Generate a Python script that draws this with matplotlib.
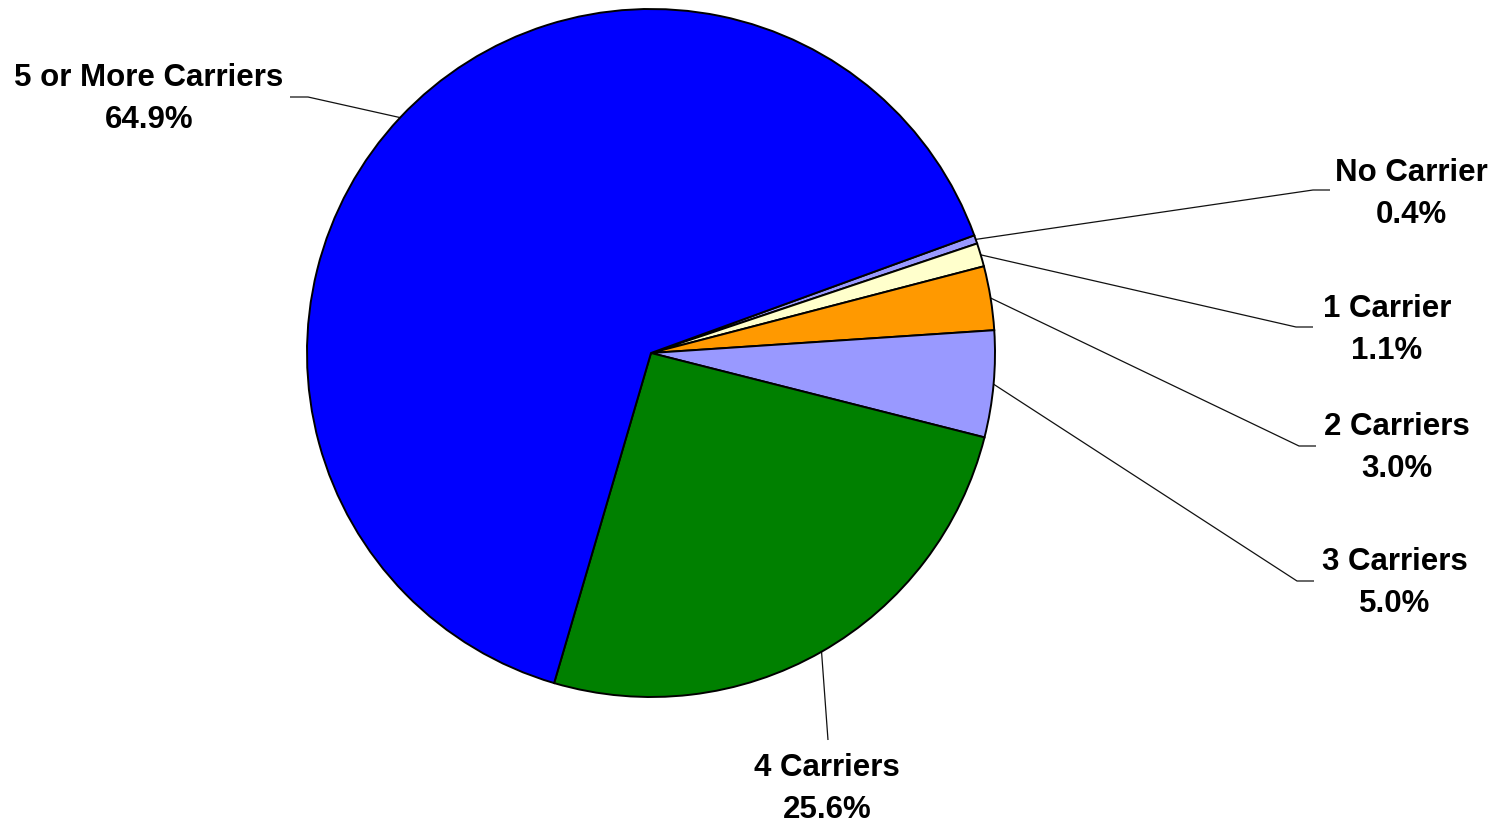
import numpy as np
import matplotlib
matplotlib.use("Agg")
import matplotlib.pyplot as plt

categories = ["No Carrier", "1 Carrier", "2 Carriers", "3 Carriers", "4 Carriers", "5 or More Carriers"]
values = [0.4, 1.1, 3.0, 5.0, 25.6, 64.9]
colors = ["#9999FF", "#FFFFCC", "#FF9900", "#9999FF", "#008000", "#0000FF"]

W, H = 1502, 824
fig = plt.figure(figsize=(W / 100, H / 100), dpi=100)
ax = fig.add_axes([0, 0, 1, 1])
ax.set_xlim(0, W)
ax.set_ylim(0, H)
ax.set_aspect("equal")
ax.axis("off")

cx, cy, R = 651, H - 353, 344
wedges, _ = ax.pie(values, colors=colors, startangle=20, counterclock=False,
                   center=(cx, cy), radius=R, frame=True,
                   wedgeprops=dict(edgecolor="black", linewidth=1.4))
ax.set_xlim(0, W)
ax.set_ylim(0, H)
ax.axis("off")

# label layout (pixel coords, y from top): elbow point, line end, text center x, text top-line y
layout = {
    "No Carrier": ((1313, 190), (1330, 190), 1411, 173),
    "1 Carrier": ((1296, 327), (1313, 327), 1387, 309),
    "2 Carriers": ((1299, 446), (1316, 446), 1397, 427),
    "3 Carriers": ((1297, 581), (1314, 581), 1395, 562),
    "4 Carriers": ((828, 740), (828, 740), 827, 768),
    "5 or More Carriers": ((308, 97), (290, 97), 149, 78),
}

font = dict(family=["Liberation Sans", "DejaVu Sans"], weight="bold", size=22.5)
for w, cat, v in zip(wedges, categories, values):
    ang = np.deg2rad((w.theta1 + w.theta2) / 2)
    px, py = cx + R * np.cos(ang), cy + R * np.sin(ang)
    (ex, ey), (lx, ly), tx, ty = layout[cat]
    ax.plot([px, ex, lx], [py, H - ey, H - ly], color="#111111", lw=0.9,
            solid_capstyle="butt", zorder=0.5)
    ax.text(tx, H - ty, cat, ha="center", va="center", **font)
    ax.text(tx, H - ty - 42, f"{v:.1f}%", ha="center", va="center", **font)

fig.savefig("out.png", dpi=100)
